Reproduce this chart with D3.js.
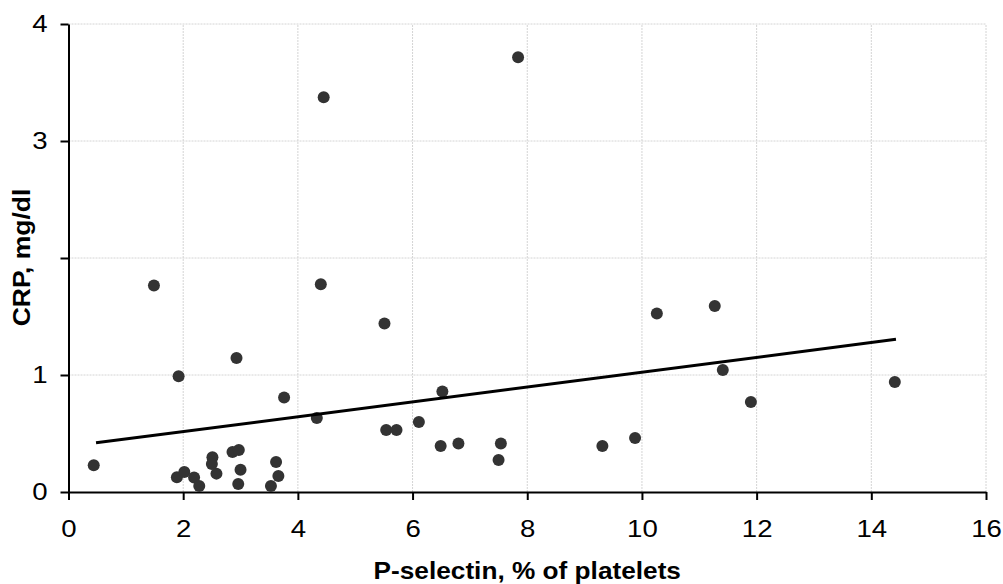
<!DOCTYPE html>
<html>
<head>
<meta charset="utf-8">
<script src="https://cdn.jsdelivr.net/npm/d3@7"></script>
<style>
  body { margin: 0; background: #fff; }
  svg { display: block; font-family: Arial, "Liberation Sans", sans-serif; }
</style>
</head>
<body>
<div id="chart"></div>
<script>
// data
const pSelectin = [0.44, 1.49, 1.89, 2.02, 1.92, 2.19, 2.28, 2.51, 2.50, 2.58,
  2.93, 2.86, 2.97, 3.00, 2.96, 3.53, 3.62, 3.66, 3.76, 4.33,
  4.40, 4.45, 7.84, 5.51, 6.52, 5.54, 5.72, 6.11, 6.49, 6.80,
  7.54, 7.50, 9.31, 9.88, 10.26, 11.27, 11.41, 11.90, 14.41];
const crp = [0.228, 1.765, 0.126, 0.171, 0.99, 0.123, 0.052, 0.297, 0.24, 0.157,
  1.145, 0.342, 0.359, 0.19, 0.068, 0.051, 0.256, 0.137, 0.807, 0.633,
  1.775, 3.373, 3.715, 1.44, 0.858, 0.53, 0.53, 0.598, 0.393, 0.414,
  0.414, 0.274, 0.393, 0.462, 1.525, 1.59, 1.043, 0.769, 0.94];
const trendX = [0.48, 14.43];
const trendY = [0.42, 1.305];
const xTicks = [0, 2, 4, 6, 8, 10, 12, 14, 16];
const yTicks = [0, 1, 2, 3, 4];
const yTickLabels = ["0", "1", "", "3", "4"];

const width = 1003, height = 584,
  margin = { top: 24, right: 17, bottom: 92, left: 68.5 };
const stretch = 1.15; // the original text is drawn a bit wider than Arial

const svg = d3.select("#chart").append("svg")
  .attr("width", width)
  .attr("height", height);

const x = d3.scaleLinear().domain([0, 16]).range([margin.left, width - margin.right]);
const y = d3.scaleLinear().domain([0, 4]).range([height - margin.bottom, margin.top]);

// gridlines
svg.append("g")
  .selectAll("line")
  .data(xTicks.slice(1))
  .join("line")
  .attr("x1", d => x(d)).attr("x2", d => x(d))
  .attr("y1", y(0)).attr("y2", y(4))
  .attr("stroke", "#d4d4d4")
  .attr("stroke-dasharray", "2,1");

svg.append("g")
  .selectAll("line")
  .data(yTicks.slice(1))
  .join("line")
  .attr("x1", x(0)).attr("x2", x(16))
  .attr("y1", d => y(d)).attr("y2", d => y(d))
  .attr("stroke", "#d4d4d4")
  .attr("stroke-dasharray", "2,1");

// axes
const xAxis = svg.append("g")
  .attr("transform", `translate(0,${y(0)})`)
  .call(d3.axisBottom(x).tickValues(xTicks).tickSize(8).tickSizeOuter(0));

const yAxis = svg.append("g")
  .attr("transform", `translate(${x(0)},0)`)
  .call(d3.axisLeft(y).tickValues(yTicks).tickFormat((d, i) => yTickLabels[i])
    .tickSize(8).tickSizeOuter(0));

[xAxis, yAxis].forEach(g => {
  g.select(".domain").attr("stroke", "#000").attr("stroke-width", 2);
  g.selectAll(".tick line").attr("stroke", "#000").attr("stroke-width", 2);
  g.selectAll(".tick text").attr("fill", "#000").style("font-size", "24px")
    .style("font-family", "Arial, 'Liberation Sans', sans-serif");
});

xAxis.selectAll(".tick text")
  .attr("y", 0)
  .attr("transform", `translate(0,28) scale(${stretch},1)`);

yAxis.selectAll(".tick text")
  .attr("x", 0)
  .attr("transform", `translate(-21,0) scale(${stretch},1)`);

// points
svg.append("g")
  .selectAll("circle")
  .data(pSelectin.map((d, i) => [d, crp[i]]))
  .join("circle")
  .attr("cx", d => x(d[0]))
  .attr("cy", d => y(d[1]))
  .attr("r", 6)
  .attr("fill", "#333");

// trend line
svg.append("line")
  .attr("x1", x(trendX[0])).attr("y1", y(trendY[0]))
  .attr("x2", x(trendX[1])).attr("y2", y(trendY[1]))
  .attr("stroke", "#000")
  .attr("stroke-width", 3);

// axis titles
svg.append("text")
  .attr("transform", `translate(${(x(0) + x(16)) / 2},579) scale(1.14,1)`)
  .attr("text-anchor", "middle")
  .style("font-size", "23px")
  .style("font-weight", "bold")
  .text("P-selectin, % of platelets");

svg.append("text")
  .attr("transform", `translate(30,257.5) rotate(-90) scale(1.15,1)`)
  .attr("text-anchor", "middle")
  .style("font-size", "23px")
  .style("font-weight", "bold")
  .text("CRP, mg/dl");
</script>
</body>
</html>
